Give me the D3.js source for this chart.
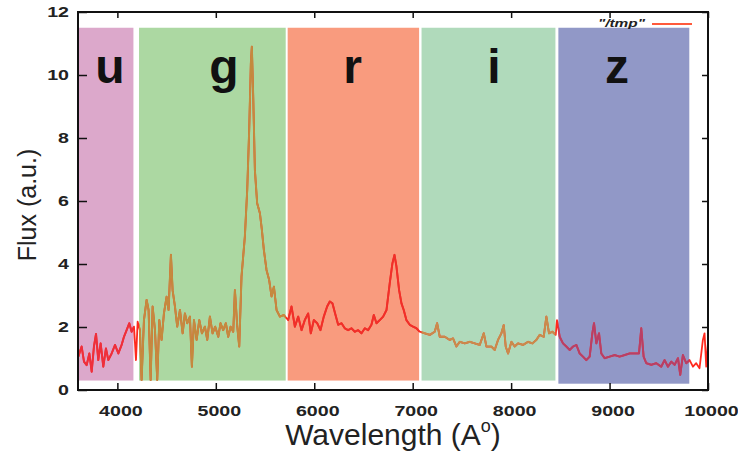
<!DOCTYPE html>
<html>
<head>
<meta charset="utf-8">
<script src="https://cdn.jsdelivr.net/npm/d3@7"></script>
<style>
  body { margin: 0; background: #fff; }
  svg { display: block; font-family: "Liberation Sans", Arial, sans-serif; }
</style>
</head>
<body>
<svg width="738" height="454"></svg>
<script>
// SDSS filter bands over a quasar spectrum
const xTicks = [4000, 5000, 6000, 7000, 8000, 9000, 10000];
const yTicks = [0, 2, 4, 6, 8, 10, 12];
const bandTop = 11.5;

const bands = [
    {name: "u", from: 3600, to: 4163, bottom: 0.3, fill: "#dca8cb", line: "#ee2f3c", labelAt: 3925},
    {name: "g", from: 4220, to: 5710, bottom: 0.3, fill: "#acd8a2", line: "#c48a3e", labelAt: 5082},
    {name: "r", from: 5730, to: 7065, bottom: 0.3, fill: "#f99b7e", line: "#f0302a", labelAt: 6390},
    {name: "i", from: 7090, to: 8450, bottom: 0.3, fill: "#b0dabb", line: "#c98c4c", labelAt: 7825},
    {name: "z", from: 8480, to: 9810, bottom: 0.2, fill: "#9198c7", line: "#b83f66", labelAt: 9075}
];

// [wavelength, flux]
const spectrum = [
    [3603,1.06],[3637,1.38],[3661,0.90],[3688,0.79],[3715,1.16],[3739,0.58],[3762,1.38],[3783,1.78],
    [3806,0.95],[3830,1.48],[3857,0.74],[3884,1.32],[3908,0.95],[3942,1.16],[3976,1.43],[4010,1.16],
    [4043,1.43],[4067,1.69],[4094,1.90],[4121,2.12],[4145,1.85],[4169,2.01],[4189,0.95],[4206,2.17],
    [4229,1.90],[4246,0.32],[4270,2.22],[4297,2.86],[4317,2.54],[4338,0.32],[4358,2.65],[4382,1.90],
    [4405,0.32],[4426,2.22],[4449,1.59],[4473,2.43],[4500,2.96],[4520,2.54],[4544,4.29],[4561,3.17],
    [4585,2.65],[4608,2.01],[4636,2.54],[4663,1.80],[4686,2.43],[4710,2.12],[4737,2.33],[4757,0.74],
    [4778,2.22],[4805,1.59],[4832,2.22],[4859,1.80],[4889,2.01],[4913,1.59],[4940,2.33],[4967,1.80],
    [4994,2.01],[5025,1.69],[5048,2.12],[5075,1.90],[5102,2.12],[5126,1.69],[5150,2.01],[5177,1.85],
    [5194,3.17],[5218,2.01],[5238,1.38],[5261,3.60],[5295,4.87],[5319,6.35],[5339,8.25],[5356,10.37],
    [5366,10.90],[5380,9.31],[5397,6.98],[5420,5.93],[5448,5.61],[5468,5.08],[5488,4.45],[5515,3.81],
    [5542,3.49],[5566,2.97],[5590,3.28],[5617,2.54],[5651,2.33],[5691,2.38],
    [5735,2.22],[5769,2.65],[5803,2.01],[5837,2.33],[5871,1.90],[5904,2.22],[5938,2.43],[5965,1.80],
    [5996,2.22],[6030,2.12],[6063,1.90],[6097,2.33],[6131,2.65],[6158,2.81],[6185,2.75],[6212,2.43],
    [6243,2.07],[6277,2.12],[6310,1.96],[6344,1.90],[6378,1.96],[6412,1.85],[6446,1.90],[6480,1.80],
    [6514,1.96],[6547,1.90],[6581,2.07],[6605,2.38],[6632,2.12],[6666,2.22],[6700,2.33],[6734,2.54],
    [6767,3.39],[6794,4.02],[6815,4.29],[6835,3.92],[6862,3.17],[6886,2.75],[6909,2.54],[6936,2.22],
    [6970,2.07],[7004,2.01],[7038,1.96],
    [7072,1.85],[7123,1.80],[7174,1.75],[7224,1.85],[7248,2.12],[7275,1.69],[7326,1.69],[7377,1.59],
    [7410,1.64],[7444,1.38],[7478,1.53],[7529,1.48],[7580,1.53],[7630,1.48],[7681,1.43],[7722,1.80],
    [7749,1.38],[7800,1.38],[7833,1.27],[7867,1.59],[7901,1.80],[7925,2.06],[7945,1.38],[7969,1.16],
    [8003,1.53],[8036,1.38],[8070,1.48],[8121,1.43],[8172,1.53],[8216,1.48],[8256,1.59],[8290,1.75],
    [8331,1.69],[8358,2.33],[8385,1.80],[8419,1.85],[8453,1.75],[8466,2.22],
    [8493,1.69],[8527,1.48],[8561,1.38],[8595,1.27],[8629,1.38],[8663,1.43],[8696,1.16],[8730,1.06],
    [8764,0.95],[8798,1.06],[8825,1.80],[8842,2.12],[8866,1.48],[8893,1.80],[8916,1.16],[8950,1.01],
    [9001,1.06],[9052,1.11],[9102,1.06],[9153,1.11],[9204,1.16],[9255,1.16],[9299,1.16],[9322,1.96],
    [9346,1.06],[9373,0.85],[9424,0.80],[9475,0.85],[9525,0.74],[9559,0.95],[9593,0.74],[9627,0.90],
    [9661,0.80],[9695,1.01],[9718,0.48],[9745,1.11],[9779,0.85],[9813,0.95],[9847,0.74],[9880,0.85],
    [9914,0.69],[9948,1.59],[9965,1.80],[9982,0.74],[9999,1.48]
];

const svg = d3.select("svg");
const m = {left: 78, right: 708, top: 12, bottom: 390};

const x = d3.scaleLinear().domain([3600, 10000]).range([m.left, m.right]);
const y = d3.scaleLinear().domain([0, 12]).range([m.bottom, m.top]);

// bands
const bandG = svg.append("g");
bandG.selectAll("rect")
    .data(bands)
    .enter().append("rect")
    .attr("x", d => x(d.from))
    .attr("width", d => x(d.to) - x(d.from))
    .attr("y", y(bandTop))
    .attr("height", d => y(d.bottom) - y(bandTop))
    .attr("fill", d => d.fill);

const defs = svg.append("defs");
defs.selectAll("clipPath")
    .data(bands)
    .enter().append("clipPath")
    .attr("id", d => "clip-" + d.name)
    .append("rect")
    .attr("x", d => x(d.from))
    .attr("width", d => x(d.to) - x(d.from))
    .attr("y", 0)
    .attr("height", m.bottom);

// spectrum
const line = d3.line()
    .x(d => x(d[0]))
    .y(d => y(d[1]));

svg.append("path")
    .datum(spectrum)
    .attr("fill", "none")
    .attr("stroke", "#ff2a1e")
    .attr("stroke-width", 1.8)
    .attr("stroke-linejoin", "round")
    .attr("d", line);

svg.append("g").selectAll("path")
    .data(bands)
    .enter().append("path")
    .attr("clip-path", d => "url(#clip-" + d.name + ")")
    .attr("fill", "none")
    .attr("stroke", d => d.line)
    .attr("stroke-width", 2)
    .attr("stroke-linejoin", "round")
    .attr("d", () => line(spectrum));

// band letters
bandG.selectAll("text")
    .data(bands)
    .enter().append("text")
    .attr("x", d => x(d.labelAt))
    .attr("y", y(bandTop) + 55)
    .attr("text-anchor", "middle")
    .attr("font-size", 48)
    .attr("font-weight", "bold")
    .attr("fill", "#111")
    .text(d => d.name);

// axes (ticks inward, frame on all sides)
const tickFont = sel => sel.selectAll("text")
    .attr("font-family", "'Liberation Sans', Arial, sans-serif")
    .attr("font-size", 14)
    .attr("font-weight", "bold")
    .attr("fill", "#222");

const xAxis = svg.append("g")
    .attr("transform", `translate(0,${m.bottom})`)
    .call(d3.axisBottom(x).tickValues(xTicks).tickSize(-7).tickPadding(16).tickFormat(d3.format("d")))
    .call(tickFont);
xAxis.selectAll("text").attr("transform", "translate(3,0) scale(1.4,1)");

const yAxis = svg.append("g")
    .attr("transform", `translate(${m.left},0)`)
    .call(d3.axisLeft(y).tickValues(yTicks).tickSize(-9).tickPadding(0).tickFormat(d3.format("d")))
    .call(tickFont);
yAxis.selectAll("text").attr("x", null).attr("transform", "translate(-9,0) scale(1.4,1)");

svg.append("g")
    .attr("transform", `translate(0,${m.top})`)
    .call(d3.axisTop(x).tickValues(xTicks).tickSize(-6).tickFormat(""));

svg.append("g")
    .attr("transform", `translate(${m.right},0)`)
    .call(d3.axisRight(y).tickValues(yTicks).tickSize(-6).tickFormat(""));

svg.selectAll(".domain").remove();
svg.selectAll(".tick line").attr("stroke", "#111").attr("stroke-width", 1.5);

svg.append("rect")
    .attr("x", m.left).attr("y", m.top)
    .attr("width", m.right - m.left).attr("height", m.bottom - m.top)
    .attr("fill", "none")
    .attr("stroke", "#111")
    .attr("stroke-width", 2);

// legend
svg.append("text")
    .attr("transform", "translate(645,27) scale(1.4,1)")
    .attr("text-anchor", "end")
    .attr("font-size", 11)
    .attr("font-style", "italic")
    .attr("font-weight", "bold")
    .attr("fill", "#222")
    .text('"/tmp"');
svg.append("line")
    .attr("x1", 652).attr("x2", 692)
    .attr("y1", 24).attr("y2", 24)
    .attr("stroke", "#ff5a3c")
    .attr("stroke-width", 2);

// axis titles
const xTitle = svg.append("text")
    .attr("x", 393).attr("y", 445)
    .attr("text-anchor", "middle")
    .attr("font-size", 30)
    .attr("fill", "#222");
xTitle.append("tspan").text("Wavelength (A");
xTitle.append("tspan").attr("font-size", 18).attr("dy", -13).text("o");
xTitle.append("tspan").attr("dy", 13).text(")");

svg.append("text")
    .attr("transform", "translate(36,205) rotate(-90)")
    .attr("text-anchor", "middle")
    .attr("font-size", 25)
    .attr("fill", "#222")
    .text("Flux (a.u.)");
</script>
</body>
</html>
